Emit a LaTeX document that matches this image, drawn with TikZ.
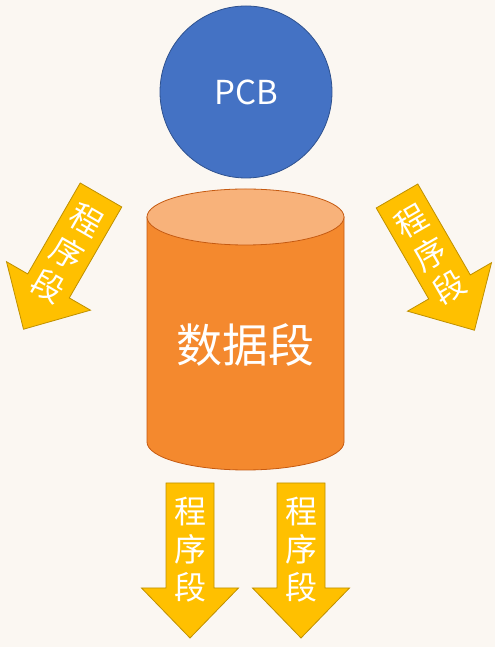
\documentclass[tikz,border=0pt]{standalone}
\usepackage{fontspec}
\newfontfamily\cjk{Noto Sans CJK SC}
\usepackage{tikz}
\usepackage{xcolor}
\definecolor{segbg}{RGB}{251,247,242}
\definecolor{pcbblue}{RGB}{68,114,196}
\definecolor{pcbline}{RGB}{47,82,143}
\definecolor{dataorange}{RGB}{244,137,46}
\definecolor{datatop}{RGB}{248,178,122}
\definecolor{dataline}{RGB}{197,90,17}
\definecolor{seggold}{RGB}{255,192,0}
\definecolor{segline}{RGB}{191,144,0}
\tikzstyle{arrowbox} = [fill=seggold, draw=segline, line width=0.8pt, line join=miter]
\tikzstyle{segtext} = [text=white, align=center, inner sep=0pt, font={\cjk\fontsize{32}{38}\selectfont}]

\begin{document}
\begin{tikzpicture}[x=1pt, y=1pt]
% Background
\fill[segbg] (0,0) rectangle (495,647);
\useasboundingbox (0,0) rectangle (495,647);

% PCB circle
\draw[fill=pcbblue, draw=pcbline, line width=0.8pt] (246,555) circle[radius=86];
\node[text=white, font={\cjk\fontsize{33}{40}\selectfont}] (pcb) at (246,555) {PCB};

% Data segment cylinder
\draw[fill=dataorange, draw=dataline, line width=0.8pt] (147,430) -- (147,205)
  arc[start angle=180, end angle=360, x radius=98.5, y radius=28] -- (344,430) -- cycle;
\draw[fill=datatop, draw=dataline, line width=0.8pt] (245.5,430) ellipse[x radius=98.5, y radius=28];
\node[text=white, font={\cjk\fontsize{46}{50}\selectfont}] (data) at (245.5,302) {数据段};

% Program segment arrows
\foreach \x/\y/\a/\n in {101/452/-30/segL, 397/451/30/segR, 190/164/0/segA, 301/164/0/segB}{
  \begin{scope}[shift={(\x,\y)}, rotate=\a]
    \draw[arrowbox] (-24,0) -- (24,0) -- (24,-105) -- (48.5,-105) -- (0,-155)
      -- (-48.5,-105) -- (-24,-105) -- cycle;
    \node[segtext, rotate=\a] (\n) at (0,-67) {程\\序\\段};
  \end{scope}
}
\end{tikzpicture}
\end{document}
